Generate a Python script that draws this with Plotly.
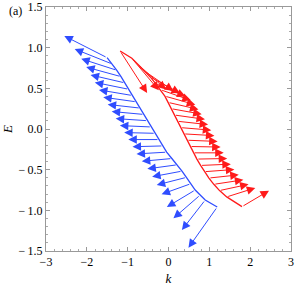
import plotly.graph_objects as go

# Band points (tails of spin arrows) and spin-arrow components
blue_k = [-1.504, -1.377, -1.266, -1.163, -1.070, -0.979, -0.886, -0.791, -0.693, -0.604,
          -0.516, -0.423, -0.327, -0.234, -0.138, -0.045, 0.082, 0.215, 0.330, 0.438,
          0.546, 0.654, 0.776, 0.899, 1.193]
blue_E = [0.877, 0.799, 0.722, 0.644, 0.567, 0.489, 0.412, 0.334, 0.257, 0.179,
          0.102, 0.025, -0.053, -0.130, -0.208, -0.285, -0.363, -0.440, -0.518, -0.595,
          -0.673, -0.750, -0.812, -0.873, -0.959]
blue_dk = [-1.047, -0.920, -0.871, -0.853, -0.839, -0.826, -0.817, -0.807, -0.797, -0.787,
           -0.777, -0.768, -0.758, -0.750, -0.743, -0.738, -0.736, -0.733, -0.731, -0.726,
           -0.716, -0.694, -0.655, -0.571, -0.704]
blue_dE = [0.267, 0.184, 0.141, 0.117, 0.098, 0.084, 0.069, 0.057, 0.045, 0.036,
           0.026, 0.017, 0.009, 0.0, -0.010, -0.021, -0.034, -0.050, -0.069, -0.093,
           -0.129, -0.209, -0.286, -0.369, -0.500]

red_k = [-1.185, -0.898, -0.746, -0.592, -0.440, -0.317, -0.192, -0.089, -0.011, 0.065,
         0.144, 0.220, 0.298, 0.374, 0.453, 0.529, 0.607, 0.695, 0.786, 0.877,
         0.990, 1.110, 1.250, 1.426, 1.799]
red_E = [0.959, 0.869, 0.792, 0.714, 0.637, 0.559, 0.482, 0.404, 0.327, 0.250,
         0.172, 0.095, 0.017, -0.060, -0.138, -0.215, -0.293, -0.370, -0.448, -0.525,
         -0.603, -0.680, -0.757, -0.835, -0.955]
red_dk = [0.662, 0.662, 0.687, 0.711, 0.723, 0.736, 0.740, 0.745, 0.745, 0.748,
          0.750, 0.750, 0.750, 0.750, 0.750, 0.748, 0.745, 0.742, 0.740, 0.736,
          0.730, 0.723, 0.711, 0.700, 0.662]
red_dE = [-0.516, -0.393, -0.307, -0.246, -0.197, -0.160, -0.129, -0.105, -0.086, -0.068,
          -0.053, -0.041, -0.031, -0.022, -0.015, -0.007, 0.0, 0.007, 0.016, 0.027,
          0.039, 0.055, 0.077, 0.111, 0.197]

x_ticks = [-3, -2, -1, 0, 1, 2, 3]
x_labels = ["\u22123", "\u22122", "\u22121", "0", "1", "2", "3"]
y_ticks = [-1.5, -1.0, -0.5, 0.0, 0.5, 1.0, 1.5]
y_labels = ["\u2212\u20091.5", "\u2212\u20091.0", "\u2212\u20090.5", "0.0", "0.5", "1.0", "1.5"]

BLUE = "#2f4dff"
RED = "#ff1a1a"
FONT = "Liberation Serif"

fig = go.Figure()
fig.add_trace(go.Scatter(x=blue_k, y=blue_E, mode="lines",
                         line=dict(color=BLUE, width=1.3), showlegend=False, hoverinfo="skip"))
fig.add_trace(go.Scatter(x=red_k, y=red_E, mode="lines",
                         line=dict(color=RED, width=1.3), showlegend=False, hoverinfo="skip"))

anns = []
for ks, Es, dks, dEs, col in [(blue_k, blue_E, blue_dk, blue_dE, BLUE),
                              (red_k, red_E, red_dk, red_dE, RED)]:
    for k0, e0, dk, de in zip(ks, Es, dks, dEs):
        anns.append(dict(x=k0 + dk, y=e0 + de, ax=k0, ay=e0,
                         xref="x", yref="y", axref="x", ayref="y",
                         text="", showarrow=True, arrowhead=2, arrowsize=1.7,
                         arrowwidth=1, arrowcolor=col, standoff=0, startstandoff=0))

anns.append(dict(text="(a)", x=-0.16, y=0.983, xref="paper", yref="paper",
                 xanchor="left", yanchor="middle", showarrow=False,
                 font=dict(family=FONT, size=12, color="black")))

axis_common = dict(showgrid=False, zeroline=False, showline=True, linecolor="#999999",
                   linewidth=1, mirror="allticks", ticks="inside", ticklen=4,
                   tickcolor="#999999", tickwidth=1, automargin=False,
                   tickfont=dict(family=FONT, size=12, color="black"))

fig.update_xaxes(range=[-3, 3], tickvals=x_ticks, ticktext=x_labels,
                 minor=dict(dtick=0.2, ticklen=2, ticks="inside", tickcolor="#aaaaaa"),
                 title=dict(text="<i>k</i>", font=dict(family=FONT, size=13, color="black"),
                            standoff=5),
                 **axis_common)
fig.update_yaxes(range=[-1.5, 1.5], tickvals=y_ticks, ticktext=y_labels,
                 minor=dict(dtick=0.1, ticklen=2, ticks="inside", tickcolor="#aaaaaa"),
                 title=dict(text="<i>E</i>", font=dict(family=FONT, size=13, color="black"),
                            standoff=3),
                 **axis_common)

fig.update_layout(width=295, height=287, margin=dict(l=46, r=4, t=7, b=36),
                  plot_bgcolor="white", paper_bgcolor="white",
                  annotations=anns, showlegend=False)

fig.write_html("out.html", config={"displayModeBar": False, "staticPlot": True},
               post_script="document.body.style.margin='0';document.body.style.padding='0';"
                           "document.body.style.overflow='hidden';")
